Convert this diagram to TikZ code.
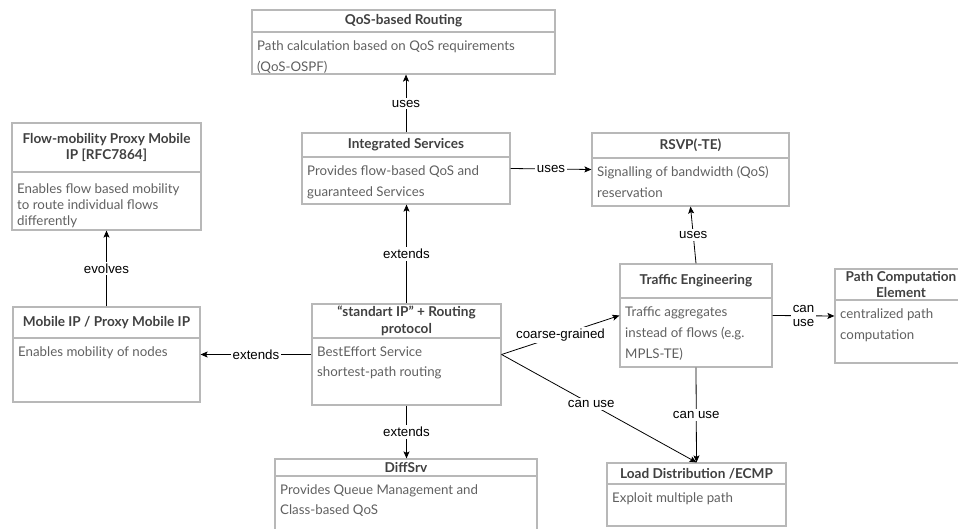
\documentclass[tikz,border=0pt]{standalone}
\usepackage{fontspec}
\setmainfont{Lato}
\newfontfamily\labelfont{Liberation Sans}
\usetikzlibrary{arrows.meta,fit}

\definecolor{boxline}{HTML}{B8B8B8}
\definecolor{headtext}{HTML}{404040}
\definecolor{bodygray}{HTML}{606060}

\tikzset{
  umlframe/.style={draw=boxline, line width=1.2pt, inner sep=0pt},
  headline/.style={text=headtext, font=\fontsize{13.6}{16.5}\selectfont\bfseries, align=center, inner sep=0pt},
  bodyline/.style={text=bodygray, font=\fontsize{13.3}{21}\selectfont, align=left, anchor=north west, inner sep=0pt},
  link/.style={draw=black, line width=0.8pt, -{Stealth[length=7pt,width=6pt,inset=1.5pt]}},
  tag/.style={fill=white, font=\labelfont\fontsize{13.3}{15}\selectfont, inner sep=2pt, align=center},
}

% class-like box: name, left, top, right, divider, bottom, title, body, body style
\newcommand\umlbox[9]{%
  \node[umlframe, fit={(#2,#3) (#4,#6)}] (#1) {};
  \draw[boxline, line width=1.2pt] (#2,#5) -- (#4,#5);
  \node[headline] at ({(#2+#4)/2},{(#3+#5)/2}) {#7};
  \node[bodyline,#9] at ({#2+5},{#5+8}) {\rule{0pt}{10pt}#8};
}

\begin{document}
\begin{tikzpicture}[x=1pt,y=-1pt]
\useasboundingbox (0,0) rectangle (958,529);

\umlbox{qos}{252}{10}{555}{32}{74}{QoS-based Routing}{Path calculation based on QoS requirements\\(QoS-OSPF)}{}
\umlbox{flow}{12}{123}{201}{172}{230}{Flow-mobility Proxy Mobile\\IP [RFC7864]}{Enables flow based mobility\\to route individual flows\\differently}{font=\fontsize{13.3}{16}\selectfont, yshift=-3pt}
\umlbox{intserv}{302}{133}{510}{157}{204}{Integrated Services}{Provides flow-based QoS and\\guaranteed Services}{}
\umlbox{rsvp}{592}{133}{789}{158}{206}{RSVP(-TE)}{Signalling of bandwidth (QoS)\\reservation}{}
\umlbox{mip}{13}{307}{200}{338}{402}{Mobile IP / Proxy Mobile IP}{Enables mobility of nodes}{}
\umlbox{ip}{312}{304}{501}{338}{405}{“standart IP” + Routing\\protocol}{BestEffort Service\\shortest-path routing}{font=\fontsize{13.3}{20}\selectfont}
\umlbox{te}{620}{264}{772}{298}{367}{Traffic Engineering}{Traffic aggregates\\instead of flows (e.g.\\MPLS-TE)}{}
\umlbox{pce}{835}{269}{967}{300}{363}{Path Computation\\Element}{centralized path\\computation}{}
\umlbox{diffserv}{275}{459}{537}{476}{545}{DiffSrv}{Provides Queue Management and\\Class-based QoS}{font=\fontsize{13.3}{20}\selectfont}
\umlbox{lb}{607}{463}{786}{484}{526}{Load Distribution /ECMP}{Exploit multiple path}{}

\draw[link] (intserv.north) -- node[tag]{uses} (intserv.north |- qos.south);
\draw[link] (intserv.east) -- node[tag]{uses} (rsvp.west);
\draw[link] (ip.north) -- node[tag]{extends} (ip.north |- intserv.south);
\draw[link] (ip.west) -- node[tag]{extends} (mip.east);
\draw[link] (mip.north) -- node[tag]{evolves} (flow.south);
\draw[link] (ip.south) -- node[tag]{extends} (ip.south |- diffserv.north);
\draw[link] (ip.east) -- node[tag]{coarse-grained} (te.west);
\draw[link] (ip.east) -- node[tag, pos=0.46]{can use} (lb.north);
\draw[link] (te.south) -- node[tag]{can use} (lb.north);
\draw[link] (te.north) -- node[tag]{uses} (rsvp.south);
\draw[link] (te.east) -- node[tag, font=\labelfont\fontsize{13.3}{14}\selectfont]{can\\use} (pce.west);
\end{tikzpicture}
\end{document}
